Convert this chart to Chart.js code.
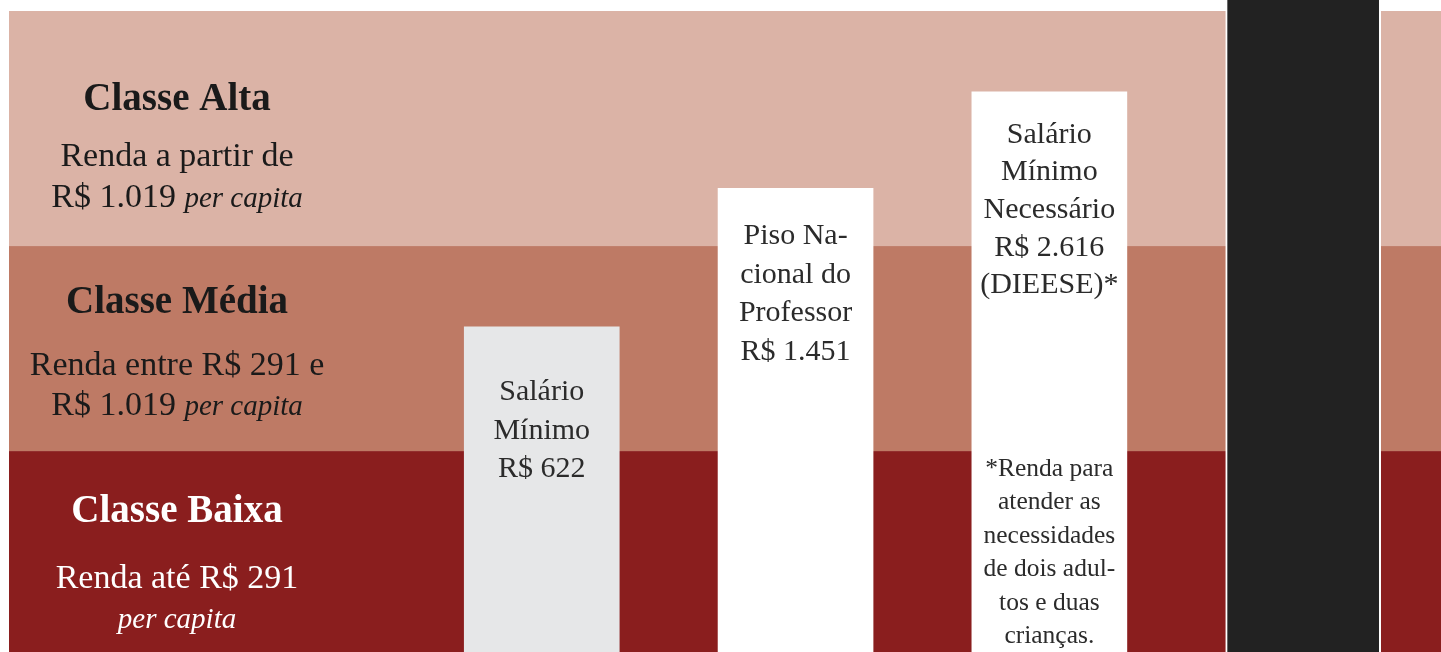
<!DOCTYPE html>
<html>
<head>
<meta charset="utf-8">
<script src="https://cdn.jsdelivr.net/npm/chart.js@4.4.1/dist/chart.umd.min.js"></script>
<style>
  html, body { margin: 0; padding: 0; background: #fff; overflow: hidden; }
  #wrap { width: 1441px; height: 652px; position: relative; }
</style>
</head>
<body>
<div id="wrap"><canvas id="rendaChart"></canvas></div>
<script>
// Income classes (background bands), limits in R$ per capita
const classTitles = ["Classe Baixa", "Classe Média", "Classe Alta"];
const classLimits = [291, 1019];
const classColors = ["#8a1e1e", "#be7a65", "#dbb3a6"];
// each line: [regular part, italic part]
const classNotes = [
  [["Renda até R$ 291", ""], ["", "per capita"]],
  [["Renda entre R$ 291 e", ""], ["R$ 1.019 ", "per capita"]],
  [["Renda a partir de", ""], ["R$ 1.019 ", "per capita"]],
];

// Salaries (bars)
const salaryNames = ["Salário Mínimo", "Piso Nacional do Professor", "Salário Mínimo Necessário", ""];
const salaryValues = [622, 1451, 2616, 26723]; // last bar runs off the top
const salaryColors = ["#e6e7e8", "#ffffff", "#ffffff", "#222222"];
const salaryLines = [
  ["Salário", "Mínimo", "R$ 622"],
  ["Piso Na-", "cional do", "Professor", "R$ 1.451"],
  ["Salário", "Mínimo", "Necessário", "R$ 2.616", "(DIEESE)*"],
  [],
];
const footnoteLines = ["*Renda para", "atender as", "necessidades", "de dois adul-", "tos e duas", "crianças."];

const SERIF = '"Liberation Serif", "DejaVu Serif", serif';

function drawMixed(ctx, parts, cx, y, regFont, itaFont) {
  ctx.font = regFont;
  const w1 = ctx.measureText(parts[0]).width;
  ctx.font = itaFont;
  const w2 = ctx.measureText(parts[1]).width;
  let x = cx - (w1 + w2) / 2;
  ctx.textAlign = "left";
  ctx.font = regFont;
  ctx.fillText(parts[0], x, y);
  ctx.font = itaFont;
  ctx.fillText(parts[1], x + w1, y);
}

// background bands between class limits
const bandsPlugin = {
  id: "bands",
  beforeDatasetsDraw(chart) {
    const { ctx, chartArea, scales } = chart;
    const y = scales.y;
    const edges = [chartArea.bottom]
      .concat(classLimits.map((v) => y.getPixelForValue(v)))
      .concat([chartArea.top]);
    ctx.save();
    for (let i = 0; i < classColors.length; i++) {
      ctx.fillStyle = classColors[i];
      ctx.fillRect(chartArea.left, edges[i + 1], chartArea.right - chartArea.left, edges[i] - edges[i + 1]);
    }
    ctx.restore();
  },
};

// texts on the bands and inside the bars
const textPlugin = {
  id: "texts",
  afterDatasetsDraw(chart) {
    const { ctx } = chart;
    ctx.save();
    ctx.textBaseline = "alphabetic";

    // class labels (left column)
    const titleBase = [521.7, 313, 110];
    const noteBase = [[588.3, 628], [375, 415], [165.7, 206.7]];
    const cx = 177;
    classTitles.forEach((t, i) => {
      ctx.fillStyle = i === 0 ? "#ffffff" : "#1a1a1a";
      ctx.font = "bold 39px " + SERIF;
      ctx.textAlign = "center";
      ctx.fillText(t, cx, titleBase[i]);
      classNotes[i].forEach((parts, j) => {
        drawMixed(ctx, parts, cx, noteBase[i][j], "34px " + SERIF, "italic 29px " + SERIF);
      });
    });

    // bar labels
    const meta = chart.getDatasetMeta(0);
    const firstBase = [400, 244, 142.7];
    const lineGap = [38.5, 38.5, 37.6];
    ctx.fillStyle = "#2b2b2b";
    ctx.textAlign = "center";
    ctx.font = "30px " + SERIF;
    salaryLines.forEach((lines, i) => {
      const bx = meta.data[i].x;
      lines.forEach((l, j) => {
        ctx.fillText(l, bx, firstBase[i] + j * lineGap[i]);
      });
    });

    // footnote in the DIEESE bar
    ctx.font = "25.5px " + SERIF;
    const fx = meta.data[2].x;
    footnoteLines.forEach((l, j) => {
      ctx.fillText(l, fx, 476 + j * 33.4);
    });
    ctx.restore();
  },
};

const ctx = document.getElementById("rendaChart").getContext("2d");
new Chart(ctx, {
  type: "bar",
  data: {
    labels: salaryNames,
    datasets: [
      {
        data: salaryValues.map((v, i) => ({ x: i + 1, y: v })),
        backgroundColor: salaryColors,
        borderColor: "#ffffff",
        borderWidth: [0, 0, 0, { left: 2, right: 2, top: 0, bottom: 0 }],
        borderSkipped: false,
        barThickness: 155,
        clip: false,
      },
    ],
  },
  options: {
    responsive: true,
    maintainAspectRatio: false,
    animation: false,
    layout: { padding: { left: 9, top: 11, right: 0, bottom: 0 } },
    plugins: {
      legend: { display: false },
      tooltip: { enabled: false },
    },
    scales: {
      x: {
        type: "linear",
        display: false,
        offset: false,
        min: -1.0991,
        max: 4.5431,
        grid: { display: false },
      },
      y: {
        type: "logarithmic",
        display: false,
        bounds: "data",
        min: 85.2,
        max: 4287,
        grid: { display: false },
      },
    },
  },
  plugins: [bandsPlugin, textPlugin],
});
</script>
</body>
</html>
